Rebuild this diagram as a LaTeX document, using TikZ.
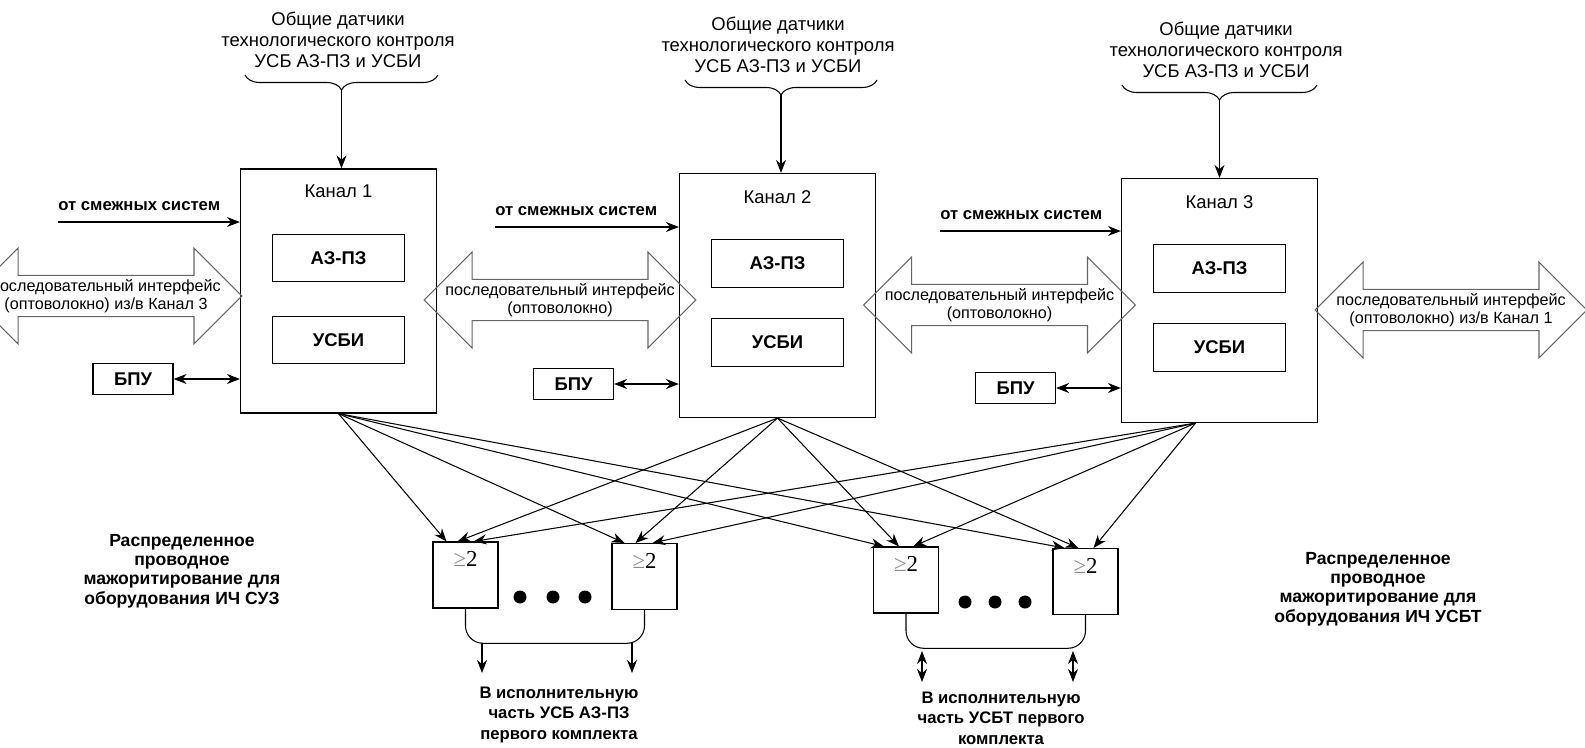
\documentclass[tikz,border=0pt]{standalone}
\usepackage{fontspec}
\setmainfont{Liberation Sans}
\newfontfamily\serifrm{Liberation Serif}
\usetikzlibrary{shapes.arrows, arrows.meta, decorations.pathreplacing, calc, positioning}

\tikzset{
	kanal/.style={draw, line width=0.7pt, minimum width=3.92cm, minimum height=4.88cm},
	blok/.style={draw, line width=0.7pt, minimum width=2.64cm, minimum height=0.95cm, font=\fontsize{10.5}{12}\selectfont\bfseries},
	bpu/.style={draw, line width=0.7pt, minimum width=1.6cm, minimum height=0.62cm, font=\fontsize{10.5}{12}\selectfont\bfseries},
	maj/.style={draw, line width=0.6pt, minimum width=1.3cm, minimum height=1.32cm},
	majlbl/.style={font=\serifrm\fontsize{13}{14}\selectfont, inner sep=0pt},
	iface/.style={double arrow, draw=black!60, line width=0.6pt, double arrow head extend=0.46cm, minimum width=1.92cm, inner sep=0pt, align=center, font=\fontsize{9.2}{10.5}\selectfont},
	dat/.style={align=center, font=\fontsize{10.5}{12}\selectfont},
	kan/.style={font=\fontsize{10.5}{12}\selectfont},
	smezh/.style={inner xsep=0pt, inner ysep=6pt, font=\fontsize{9.5}{11}\selectfont\bfseries},
	podpis/.style={align=center, font=\fontsize{10}{11}\selectfont\bfseries},
	vyhod/.style={align=center, font=\fontsize{9.5}{11.5}\selectfont\bfseries},
	sv/.style={-{Stealth[length=2.6mm,width=2mm]}, line width=0.6pt},
	dv/.style={{Stealth[length=2.6mm,width=2mm]}-{Stealth[length=2.6mm,width=2mm]}, line width=0.6pt},
	skob/.style={decorate, decoration={brace, mirror, amplitude=0.3cm}, line width=0.6pt}
}

\begin{document}
\begin{tikzpicture}[x=0.02cm, y=-0.02cm]
	\useasboundingbox (0,0) rectangle (1585,747);
	\clip (0,0) rectangle (1585,747);

	% channels
	\node[kanal] (k1) at (338.5,291) {};
	\node[kanal] (k2) at (777.5,295.5) {};
	\node[kanal] (k3) at (1219.5,300.5) {};
	\node[kan] (n1) at ($(k1.north)+(0,23)$) {Канал 1};
	\node[kan] (n2) at ($(k2.north)+(0,24)$) {Канал 2};
	\node[kan] (n3) at ($(k3.north)+(0,24)$) {Канал 3};
	\node[blok] (a1) at ($(k1)+(0,-33)$) {АЗ-ПЗ};
	\node[blok] (u1) at ($(k1)+(0,49)$) {УСБИ};
	\node[blok] (a2) at ($(k2)+(0,-32)$) {АЗ-ПЗ};
	\node[blok] (u2) at ($(k2)+(0,47)$) {УСБИ};
	\node[blok] (a3) at ($(k3)+(0,-32)$) {АЗ-ПЗ};
	\node[blok] (u3) at ($(k3)+(0,47)$) {УСБИ};

	% sensors on top
	\node[dat] (d1) at (338,40) {Общие датчики\\технологического контроля\\УСБ АЗ-ПЗ и УСБИ};
	\node[dat] (d2) at (778,45) {Общие датчики\\технологического контроля\\УСБ АЗ-ПЗ и УСБИ};
	\node[dat] (d3) at (1226,50) {Общие датчики\\технологического контроля\\УСБ АЗ-ПЗ и УСБИ};
	\draw[skob] (245,75) -- (438,75);
	\draw[skob] (685,80) -- (877,80);
	\draw[skob] (1122,85) -- (1317,85);
	\coordinate (c1) at (341.5,90);
	\coordinate (c2) at (781,95);
	\coordinate (c3) at (1219.5,100);
	\draw[sv] (c1) -- (c1 |- k1.north);
	\draw[sv] (c2) -- (c2 |- k2.north);
	\draw[sv] (c3) -- (c3 |- k3.north);

	% adjacent systems
	\node[smezh, anchor=south west] (o1) at (58,222) {от смежных систем};
	\node[smezh, anchor=south west] (o2) at (495,227) {от смежных систем};
	\node[smezh, anchor=south west] (o3) at (940,231) {от смежных систем};
	\draw[sv] (o1.south west) -- (o1.south west -| k1.west);
	\draw[sv] (o2.south west) -- (o2.south west -| k2.west);
	\draw[sv] (o3.south west) -- (o3.south west -| k3.west);

	% serial links
	\node[iface, minimum height=5.26cm] (i31) at (106,296) {последовательный интерфейс\\(оптоволокно) из/в Канал 3};
	\node[iface, minimum height=4.88cm] (i12) at (560,300) {последовательный интерфейс\\(оптоволокно)};
	\node[iface, minimum height=4.9cm] (i23) at (999.5,305) {последовательный интерфейс\\(оптоволокно)};
	\node[iface, minimum height=5.32cm] (i1) at (1451,310) {последовательный интерфейс\\(оптоволокно) из/в Канал 1};

	% BPU
	\node[bpu] (b1) at (133,379) {БПУ};
	\node[bpu] (b2) at (573.5,384) {БПУ};
	\node[bpu] (b3) at (1015.5,388) {БПУ};
	\draw[dv] (b1.east) -- (b1.east -| k1.west);
	\draw[dv] (b2.east) -- (b2.east -| k2.west);
	\draw[dv] (b3.east) -- (b3.east -| k3.west);

	% voting elements
	\node[maj] (mA) at (465.5,575) {};
	\node[maj] (mB) at (644.5,576.5) {};
	\node[maj] (mC) at (906,580) {};
	\node[maj] (mD) at (1085.5,581.5) {};
	\node[majlbl, below=0.2cm of mA.north] (lA) {\textcolor{black!45}{≥}2};
	\node[majlbl, below=0.2cm of mB.north] (lB) {\textcolor{black!45}{≥}2};
	\node[majlbl, below=0.2cm of mC.north] (lC) {\textcolor{black!45}{≥}2};
	\node[majlbl, below=0.2cm of mD.north] (lD) {\textcolor{black!45}{≥}2};
	\coordinate (s3) at ($(k3.south)+(-24,0)$);
	\draw[sv] (k1.south) -- ($(mA.north)+(-19,0)$);
	\draw[sv] (k2.south) -- ($(mA.north)+(-8,0)$);
	\draw[sv] (s3) -- ($(mA.north)+(8,0)$);
	\draw[sv] (k1.south) -- ($(mB.north)+(-20,0)$);
	\draw[sv] (k2.south) -- ($(mB.north)+(-9,0)$);
	\draw[sv] (s3) -- ($(mB.north)+(8,0)$);
	\draw[sv] (k1.south) -- ($(mC.north)+(-22,0)$);
	\draw[sv] (k2.south) -- ($(mC.north)+(-7,0)$);
	\draw[sv] (s3) -- ($(mC.north)+(7,0)$);
	\draw[sv] (k1.south) -- ($(mD.north)+(-21,0)$);
	\draw[sv] (k2.south) -- ($(mD.north)+(-7,0)$);
	\draw[sv] (s3) -- ($(mD.north)+(8,0)$);

	\fill (520,597) circle[radius=0.13cm];
	\fill (553,597) circle[radius=0.13cm];
	\fill (585,597) circle[radius=0.13cm];
	\fill (965,602) circle[radius=0.13cm];
	\fill (995,602) circle[radius=0.13cm];
	\fill (1025,602) circle[radius=0.13cm];

	% outputs
	\draw[line width=0.6pt, rounded corners=0.35cm] (mA.south) |- ($(mA.south)!0.5!(mB.south)+(0,34)$) -| (mB.south);
	\draw[line width=0.6pt, rounded corners=0.35cm] (mC.south) |- ($(mC.south)!0.5!(mD.south)+(0,34)$) -| (mD.south);
	\coordinate (oA) at (482,643);
	\coordinate (oB) at (632,643);
	\coordinate (oC) at (922,651);
	\coordinate (oD) at (1073,651);
	\draw[sv] (oA) -- ++(0,30);
	\draw[sv] (oB) -- ++(0,30);
	\draw[dv] (oC) -- ++(0,31);
	\draw[dv] (oD) -- ++(0,31);
	\node[vyhod, anchor=north] (v1) at (559,681) {В исполнительную\\часть УСБ АЗ-ПЗ\\первого комплекта};
	\node[vyhod, anchor=north] (v2) at (1001,686) {В исполнительную\\часть УСБТ первого\\комплекта};

	\node[podpis] (p1) at (182,571) {Распределенное\\проводное\\мажоритирование для\\оборудования ИЧ СУЗ};
	\node[podpis] (p2) at (1378,589) {Распределенное\\проводное\\мажоритирование для\\оборудования ИЧ УСБТ};
\end{tikzpicture}
\end{document}
